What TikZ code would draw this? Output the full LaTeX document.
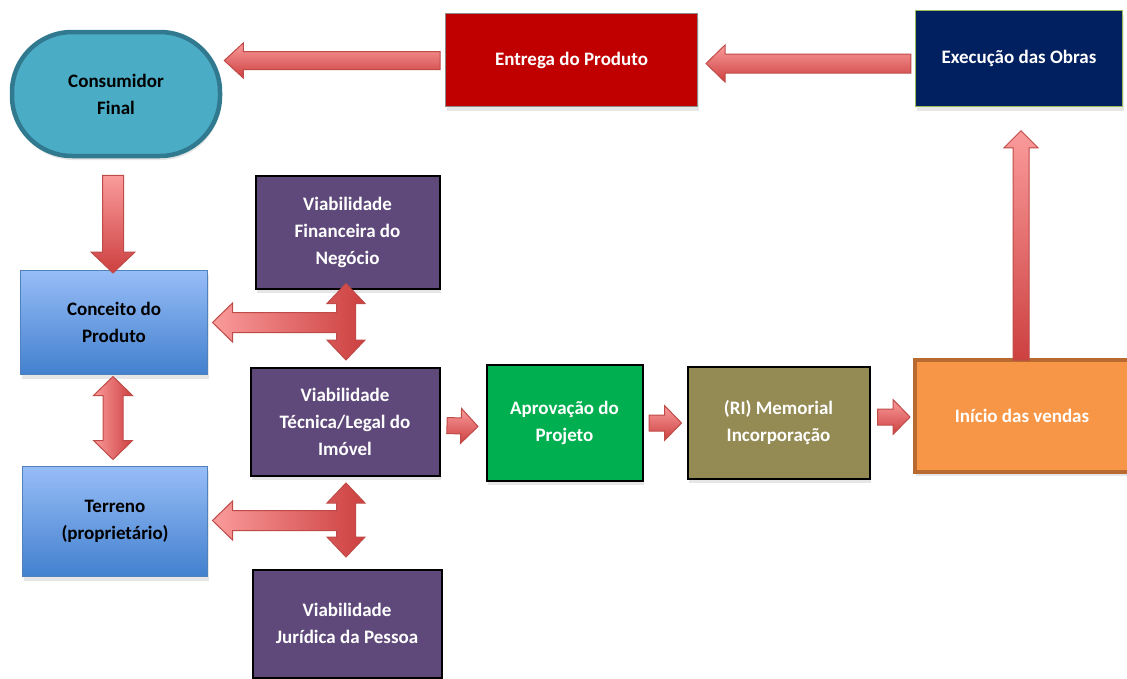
\documentclass[tikz,border=0pt]{standalone}
\usepackage{fontspec}
\setmainfont{Carlito}
\usetikzlibrary{calc,shadows}
\definecolor{tealcons}{HTML}{4BACC6}
\definecolor{tealborda}{HTML}{31798F}
\definecolor{vermelho}{HTML}{C00000}
\definecolor{azulobra}{HTML}{002060}
\definecolor{verdeborda}{HTML}{9BBB59}
\definecolor{azulclaro}{RGB}{151,189,247}
\definecolor{azulescuro}{RGB}{66,128,206}
\definecolor{azulborda}{HTML}{4F81BD}
\definecolor{roxo}{HTML}{5F497A}
\definecolor{verde}{HTML}{00B050}
\definecolor{oliva}{HTML}{948A54}
\definecolor{laranja}{HTML}{F79646}
\definecolor{laranjaborda}{HTML}{B86A30}
\definecolor{setaclara}{RGB}{250,155,155}
\definecolor{setaescura}{RGB}{205,64,64}
\definecolor{setaborda}{RGB}{190,75,72}
\tikzset{
  caixa/.style={rectangle, inner sep=0pt, align=center, text=white,
    font=\bfseries\fontsize{19}{27}\selectfont, draw=black, line width=2pt,
    drop shadow={shadow xshift=1pt, shadow yshift=-4pt, opacity=0.2}},
  caixaazul/.style={caixa, text=black, draw=azulborda, line width=1pt,
    top color=azulclaro, bottom color=azulescuro},
  setabloco/.style={draw=setaborda, line width=1pt,
    top color=setaclara, bottom color=setaescura},
  setacruz/.style={draw=setaborda, line width=1pt,
    left color=setaclara, right color=setaescura},
}
% seta simples: {cauda}{ponta}{meia haste}{meia cabeca}{comprimento cabeca}
\newcommand{\seta}[5]{%
  \path[setabloco] let \p1=(#1), \p2=(#2),
    \n1={veclen(\x2-\x1,\y2-\y1)}, \n2={(\x2-\x1)/\n1}, \n3={(\y2-\y1)/\n1} in
    ({\x1-\n3*#3pt},{\y1+\n2*#3pt})
    -- ({\x2-\n2*#5pt-\n3*#3pt},{\y2-\n3*#5pt+\n2*#3pt})
    -- ({\x2-\n2*#5pt-\n3*#4pt},{\y2-\n3*#5pt+\n2*#4pt})
    -- (\p2)
    -- ({\x2-\n2*#5pt+\n3*#4pt},{\y2-\n3*#5pt-\n2*#4pt})
    -- ({\x2-\n2*#5pt+\n3*#3pt},{\y2-\n3*#5pt-\n2*#3pt})
    -- ({\x1+\n3*#3pt},{\y1-\n2*#3pt}) -- cycle;
}
% seta em cruz: {ponta de cima}{ponta de baixo}{ponta da esquerda}
\newcommand{\setacruz}[3]{%
  \path[setacruz] let \p1=(#1), \p2=(#2), \p3=(#3) in
    (\p1) -- ($(\x1+19pt,\y1-20pt)$) -- ($(\x1+9.5pt,\y1-20pt)$)
    -- ($(\x1+9.5pt,\y2+20pt)$) -- ($(\x1+19pt,\y2+20pt)$) -- (\p2)
    -- ($(\x1-19pt,\y2+20pt)$) -- ($(\x1-9.5pt,\y2+20pt)$)
    -- ($(\x1-9.5pt,\y3-10pt)$) -- ($(\x3+20pt,\y3-10pt)$)
    -- ($(\x3+20pt,\y3-19.5pt)$) -- (\p3) -- ($(\x3+20pt,\y3+19.5pt)$)
    -- ($(\x3+20pt,\y3+10pt)$) -- ($(\x1-9.5pt,\y3+10pt)$)
    -- ($(\x1-9.5pt,\y1-20pt)$) -- ($(\x1-19pt,\y1-20pt)$) -- cycle;
}

\begin{document}
\begin{tikzpicture}[x=1pt, y=-1pt]
  \useasboundingbox (0,0) rectangle (1127,678);

  % linha de cima
  \node[caixa, text=black, fill=tealcons, draw=tealborda, line width=4.5pt,
    rounded corners=60pt, minimum width=208pt, minimum height=124pt]
    (consumidor) at (116,94) {Consumidor\\Final};
  \node[caixa, fill=vermelho, draw=black!45, line width=1pt,
    minimum width=252pt, minimum height=93pt] (entrega) at (571.5,60) {Entrega do Produto};
  \node[caixa, fill=azulobra, draw=verdeborda, line width=1.5pt,
    minimum width=207pt, minimum height=96pt] (execucao) at (1019,58.5) {Execução das Obras};

  % coluna da esquerda
  \node[caixaazul, minimum width=187pt, minimum height=104pt] (conceito) at (114,322.5) {Conceito do\\Produto};
  \node[caixaazul, minimum width=185pt, minimum height=110pt] (terreno) at (115,521.5) {Terreno\\(proprietário)};

  % viabilidades
  \node[caixa, fill=roxo, minimum width=184pt, minimum height=113pt] (financeira) at (347.5,232) {Viabilidade\\Financeira do\\Negócio};
  \node[caixa, fill=roxo, minimum width=189pt, minimum height=108pt] (tecnica) at (345,421.5) {Viabilidade\\Técnica/Legal do\\Imóvel};
  \node[caixa, fill=roxo, minimum width=189pt, minimum height=108pt] (juridica) at (347,623.5) {Viabilidade\\Jurídica da Pessoa};

  % sequencia do meio
  \node[caixa, fill=verde, minimum width=156pt, minimum height=116pt] (aprovacao) at (564.5,422.5) {Aprovação do\\Projeto};
  \node[caixa, fill=oliva, minimum width=182pt, minimum height=112pt] (memorial) at (778.5,422.5) {(RI) Memorial\\Incorporação};
  \node[caixa, fill=laranja, draw=laranjaborda, line width=4pt,
    minimum width=214pt, minimum height=112pt] (inicio) at (1022,416) {Início das vendas};

  % setas
  \seta{$(execucao.west)+(-4,5)$}{$(entrega.east |- execucao.west)+(8,5)$}{9.5}{18.5}{19}
  \seta{$(entrega.west)+(-5,0.5)$}{$(consumidor.east |- entrega.west)+(2,0.5)$}{9}{17.5}{19}
  \seta{$(consumidor.south)+(-3,17)$}{$(conceito.north)+(-1,3)$}{10.5}{22}{21}
  \seta{$(tecnica.east)+(6.5,4)$}{$(aprovacao.west)+(-7.5,4)$}{8}{17.5}{17}
  \seta{$(aprovacao.east)+(5.5,0.5)$}{$(memorial.west)+(-5,0.5)$}{8}{17.5}{17}
  \seta{$(memorial.east)+(7,-5.5)$}{$(inicio.west)+(-3,1)$}{8}{17.5}{17}
  \seta{$(inicio.north)+(-1,2)$}{$(execucao.south)+(2,23.5)$}{8}{17}{17}

  % seta dupla entre conceito e terreno
  \path[setacruz] let \p1=($(conceito.south)+(-1,1.5)$), \p2=($(terreno.north)+(-2,-6.5)$) in
    (\p1) -- ($(\x1+19.5pt,\y1-19pt)$) -- ($(\x1+10pt,\y1-19pt)$)
    -- ($(\x1+10pt,\y2+19pt)$) -- ($(\x1+19.5pt,\y2+19pt)$) -- (\p2)
    -- ($(\x1-19.5pt,\y2+19pt)$) -- ($(\x1-10pt,\y2+19pt)$)
    -- ($(\x1-10pt,\y1-19pt)$) -- ($(\x1-19.5pt,\y1-19pt)$) -- cycle;

  % setas em cruz
  \setacruz{$(financeira.south)+(-1.5,-6)$}{$(tecnica.north)+(1,-6.5)$}{$(conceito.east)+(4.5,0)$}
  \setacruz{$(tecnica.south)+(1,6.5)$}{$(juridica.north)+(-1,-11.5)$}{$(terreno.east)+(4.5,-1)$}
\end{tikzpicture}
\end{document}
